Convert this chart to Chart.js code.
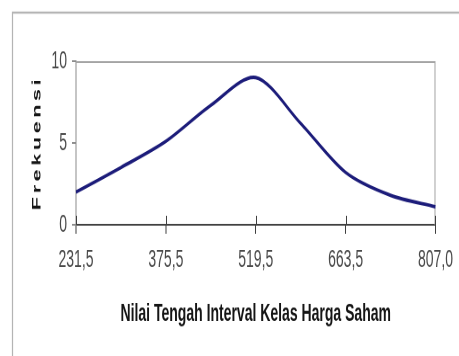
<!DOCTYPE html>
<html><head><meta charset="utf-8">
<script src="https://cdn.jsdelivr.net/npm/chart.js@4"></script>
<style>
html,body{margin:0;padding:0;background:#fff;width:459px;height:356px;overflow:hidden}
#outer{width:459px;height:356px;position:relative;overflow:hidden}
#wrap{position:absolute;left:0;top:0;width:459px;height:198px;transform:scaleY(1.798);transform-origin:0 0}
</style></head><body>
<div id="outer"><div id="wrap"><canvas id="c" width="459" height="198" style="width:459px;height:198px"></canvas></div></div>
<script>
const categories = ['231,5','303,5','375,5','447,5','519,5','591,5','663,5','735,5','807,0'];
const frekuensi = [2, 3.5, 5.1, 7.3, 9, 6.2, 3.2, 1.8, 1.1];
const yTicks = [0, 5, 10];
const xTitle = 'Nilai Tengah Interval Kelas Harga Saham';
const yTitle = 'Frekuensi';

const framePlugin = {
  id: 'frame',
  beforeDraw(chart) {
    const {ctx, width, height} = chart;
    ctx.save();
    ctx.fillStyle = '#fff';
    ctx.fillRect(0, 0, width, height);
    ctx.strokeStyle = '#b4b4b4';
    ctx.lineWidth = 1.2;
    ctx.strokeRect(12.5, 7, width + 50, height + 50);
    ctx.restore();
    const ys = chart.scales.y;
    if (ys && !ys._spaced) {
      const orig = ys.drawTitle;
      ys.drawTitle = function () {
        const c = this.ctx;
        c.save();
        c.letterSpacing = '2px';
        orig.apply(this, arguments);
        c.restore();
      };
      ys._spaced = true;
    }
  },
  beforeDatasetsDraw(chart) {
    const {ctx, chartArea: a, scales: {x}} = chart;
    ctx.save();
    ctx.strokeStyle = '#a4a4a4';
    ctx.lineWidth = 1;
    ctx.beginPath();
    ctx.moveTo(a.left, a.top + 0.5);
    ctx.lineTo(a.right - 0.5, a.top + 0.5);
    ctx.lineTo(a.right - 0.5, a.bottom);
    ctx.stroke();
    ctx.strokeStyle = '#404040';
    x.ticks.forEach((t, i) => {
      if (i % 2) return;
      const px = Math.round(x.getPixelForTick(i)) + 0.5;
      ctx.beginPath();
      ctx.moveTo(px, a.bottom - 5);
      ctx.lineTo(px, a.bottom);
      ctx.stroke();
    });
    ctx.restore();
  }
};

new Chart(document.getElementById('c'), {
  type: 'line',
  data: {
    labels: categories,
    datasets: [{
      data: frekuensi,
      borderColor: '#1c1c7a',
      borderWidth: 2,
      pointRadius: 0,
      fill: false,
      tension: 0.3
    }]
  },
  options: {
    responsive: false,
    animation: false,
    devicePixelRatio: 2,
    layout: {padding: {top: 34, right: 18, left: 0, bottom: 0}},
    plugins: {legend: {display: false}, tooltip: {enabled: false}},
    scales: {
      x: {
        type: 'category',
        offset: false,
        afterFit(s) { s.height = 73; },
        grid: {
          display: true, drawOnChartArea: false, drawTicks: true, tickLength: 5,
          color: (c) => (c.index % 2 ? 'rgba(0,0,0,0)' : '#404040'), lineWidth: 1
        },
        border: {display: true, color: '#404040', width: 1},
        ticks: {
          autoSkip: false, maxRotation: 0, minRotation: 0, padding: 6,
          color: '#4a4a4a',
          font: {family: 'Liberation Sans', size: 14},
          callback: function (v, i) { return i % 2 === 0 ? this.getLabelForValue(v) : ''; }
        },
        title: {
          display: true, text: xTitle, color: '#151515',
          font: {family: 'Liberation Sans', size: 14, weight: 'bold'},
          padding: {top: 0, bottom: 15}
        }
      },
      y: {
        min: 0, max: 10,
        afterFit(s) { s.width = 76; },
        afterBuildTicks(s) { s.ticks = yTicks.map(v => ({value: v})); },
        grid: {display: true, drawOnChartArea: false, drawTicks: true, tickLength: 4, color: '#8c8c8c'},
        border: {display: true, color: '#8c8c8c', width: 1},
        ticks: {
          padding: 5, color: '#4a4a4a',
          font: {family: 'Liberation Sans', size: 14}
        },
        title: {
          display: true, text: yTitle, color: '#151515',
          font: {family: 'Liberation Sans', size: 12, weight: 'bold'},
          padding: {top: 30, bottom: 0}
        }
      }
    }
  },
  plugins: [framePlugin]
});
</script>
</body></html>
